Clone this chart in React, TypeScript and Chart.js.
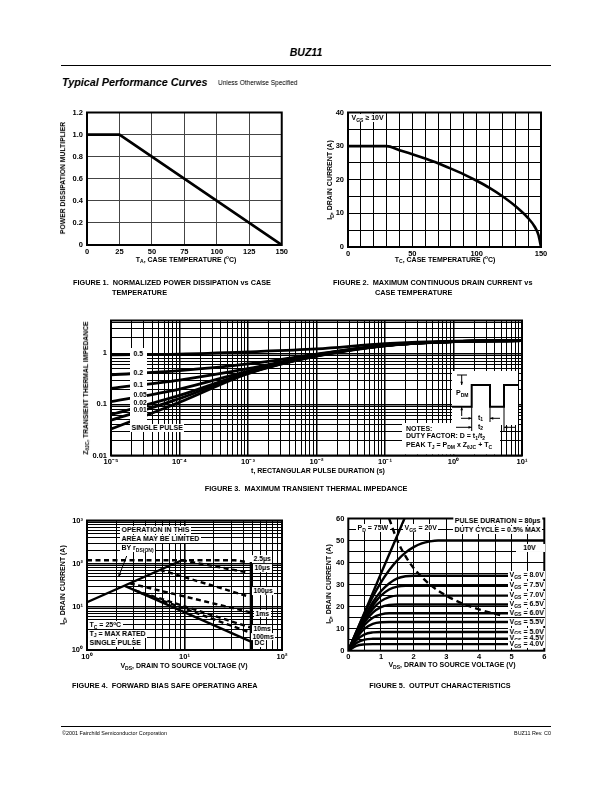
import React, { useEffect, useRef } from 'react';
import { Chart, registerables } from 'chart.js';
Chart.register(...registerables);

const FONT = "'Liberation Sans Narrow', 'Liberation Sans', Arial, Helvetica, sans-serif";
const HFONT = "'Liberation Sans', Arial, Helvetica, sans-serif";

// ---------------- Figure 1: normalized power dissipation ----------------
const fig1Temp = [0, 25, 150];
const fig1Mult = [1.0, 1.0, 0.0];
const fig1XTicks = [0, 25, 50, 75, 100, 125, 150];
const fig1XLabels = ['0', '25', '50', '75', '100', '125', '150'];
const fig1YTicks = [0, 0.2, 0.4, 0.6, 0.8, 1.0, 1.2];
const fig1YLabels = ['0', '0.2', '0.4', '0.6', '0.8', '1.0', '1.2'];

// ---------------- Figure 2: max continuous drain current ----------------
const fig2Temp = [0, 30, 40, 50, 60, 70, 80, 90, 100, 110, 120, 130, 140, 145, 148, 150];
const fig2Id = [30, 30, 28.8, 27.6, 26.3, 24.9, 23.3, 21.6, 19.7, 17.6, 15.1, 12.2, 8.6, 6.1, 3.6, 0];
const fig2XTicks = [0, 10, 20, 30, 40, 50, 60, 70, 80, 90, 100, 110, 120, 130, 140, 150];
const fig2XLabels = ['0', '', '', '', '', '50', '', '', '', '', '100', '', '', '', '', '150'];
const fig2YTicks = [0, 5, 10, 15, 20, 25, 30, 35, 40];
const fig2YLabels = ['0', '', '10', '', '20', '', '30', '', '40'];

// ---------------- Figure 3: transient thermal impedance ----------------
const fig3Time = [1e-5, 1e-4, 1e-3, 1e-2, 1e-1, 1, 10];
const fig3D050 = [0.94, 0.97, 1.07, 1.22, 1.55, 1.74, 1.78];
const fig3D020 = [0.38, 0.46, 0.62, 0.97, 1.44, 1.7, 1.77];
const fig3D010 = [0.206, 0.3, 0.5, 0.94, 1.43, 1.7, 1.77];
const fig3D005 = [0.113, 0.2, 0.45, 0.92, 1.42, 1.7, 1.77];
const fig3D002 = [0.063, 0.15, 0.42, 0.9, 1.42, 1.7, 1.77];
const fig3D001 = [0.049, 0.13, 0.41, 0.89, 1.42, 1.7, 1.77];
const fig3Single = [0.033, 0.11, 0.4, 0.88, 1.41, 1.7, 1.77];
const fig3XLabelVals = [1e-5, 1e-4, 1e-3, 1e-2, 1e-1, 1, 10];
const fig3XLabels = ['10⁻⁵', '10⁻⁴', '10⁻³', '10⁻²', '10⁻¹', '10⁰', '10¹'];
const fig3YLabelVals = [0.01, 0.1, 1];
const fig3YLabels = ['0.01', '0.1', '1'];

// ---------------- Figure 4: forward bias safe operating area ----------------
const soaRdsV = [1, 9.4];
const soaRdsI = [12.8, 120];
const soa2p5usV = [1, 33, 45];
const soa2p5usI = [120, 120, 108];
const soa10usV = [9.4, 45];
const soa10usI = [120, 62];
const soa100usV = [5.6, 45];
const soa100usI = [72, 17.5];
const soa1msV = [2.75, 48];
const soa1msI = [35, 7.4];
const soa10msV = [3.1, 48];
const soa10msI = [24, 3.3];
const soa100msV = [3.4, 48];
const soa100msI = [22, 2.5];
const soaDcV = [2.44, 48];
const soaDcI = [30.7, 1.56];
const soaBvV = [48, 48];
const soaBvI = [110, 1];
const fig4XLabelVals = [1, 10, 100];
const fig4XLabels = ['10⁰', '10¹', '10²'];
const fig4YLabelVals = [1, 10, 100, 1000];
const fig4YLabels = ['10⁰', '10¹', '10²', '10³'];

// ---------------- Figure 5: output characteristics ----------------
const outVds = [0, 0.25, 0.5, 0.75, 1, 1.25, 1.5, 1.75, 2, 2.25, 2.5, 2.75, 3, 6];
const outVgs10 = [0, 8.7, 17, 24.5, 31, 36.5, 41, 44.5, 47, 48.7, 49.6, 50, 50, 50];
const outVgs80 = [0, 8.2, 15.5, 22, 27, 30.5, 32.8, 33.8, 34, 34, 34, 34, 34, 34];
const outVgs75 = [0, 7.8, 14.8, 20.5, 25, 27.8, 29.1, 29.5, 29.5, 29.5, 29.5, 29.5, 29.5, 29.5];
const outVgs70 = [0, 7.4, 14, 19, 22.5, 24.3, 25, 25, 25, 25, 25, 25, 25, 25];
const outVgs65 = [0, 7, 13, 17.3, 19.8, 20.8, 21, 21, 21, 21, 21, 21, 21, 21];
const outVgs60 = [0, 6.5, 11.8, 15, 16.5, 17, 17, 17, 17, 17, 17, 17, 17, 17];
const outVgs55 = [0, 5.8, 10, 12.2, 12.9, 13, 13, 13, 13, 13, 13, 13, 13, 13];
const outVgs50 = [0, 4.8, 7.4, 8.3, 8.5, 8.5, 8.5, 8.5, 8.5, 8.5, 8.5, 8.5, 8.5, 8.5];
const outVgs45 = [0, 3.5, 5.0, 5.4, 5.5, 5.5, 5.5, 5.5, 5.5, 5.5, 5.5, 5.5, 5.5, 5.5];
const outVgs40 = [0, 2.2, 2.85, 3, 3, 3, 3, 3, 3, 3, 3, 3, 3, 3];
const out20V = [0, 0.5, 1, 1.5, 1.72];
const out20I = [0, 17.5, 35, 52.3, 60];
const pdV = [1.25, 1.5, 1.75, 2, 2.5, 3, 3.5, 4, 4.75];
const pdI = [60, 50, 42.9, 37.5, 30, 25, 21.4, 18.75, 15.8];
const fig5XTicks = [0, 0.5, 1, 1.5, 2, 2.5, 3, 3.5, 4, 4.5, 5, 5.5, 6];
const fig5XLabels = ['0', '', '1', '', '2', '', '3', '', '4', '', '5', '', '6'];
const fig5YTicks = [0, 5, 10, 15, 20, 25, 30, 35, 40, 45, 50, 55, 60];
const fig5YLabels = ['0', '', '10', '', '20', '', '30', '', '40', '', '50', '', '60'];

// ---------------- helpers ----------------
function logGrid(minExp: number, maxExp: number, maxVal: number) {
  const out: number[] = [];
  for (let e = minExp; e < maxExp; e++) {
    for (let m = 1; m <= 9; m++) out.push(Number((m * Math.pow(10, e)).toPrecision(6)));
  }
  out.push(Number(Math.pow(10, maxExp).toPrecision(6)));
  return out.filter((v) => v <= maxVal * 1.0000001);
}
function near(a: number, b: number) {
  return Math.abs(a - b) <= 1e-6 * Math.max(1e-12, Math.abs(b));
}
function labelFrom(vals: number[], labels: string[]) {
  return (v: number) => {
    const i = vals.findIndex((t) => near(v, t) || (t === 0 && Math.abs(v) < 1e-9));
    return i >= 0 ? labels[i] : '';
  };
}
function isDecade(v: number) {
  if (!(v > 0)) return false;
  const l = Math.log10(v);
  return Math.abs(l - Math.round(l)) < 1e-6;
}

function mkScale(o: any) {
  return {
    type: o.type,
    min: o.min,
    max: o.max,
    position: o.axis === 'x' ? 'bottom' : 'left',
    afterBuildTicks: (s: any) => {
      s.ticks = o.ticks.map((v: number) => ({ value: v }));
    },
    afterFit: (s: any) => {
      if (o.axis === 'x') s.height = o.fit;
      else s.width = o.fit;
    },
    ticks: {
      autoSkip: false,
      maxRotation: 0,
      minRotation: 0,
      padding: o.pad,
      color: '#000',
      font: { family: FONT, size: o.fontSize ?? 7.5, weight: 'bold' },
      callback: (v: any) => o.label(Number(v)),
    },
    grid: {
      color: o.gridColor ?? '#000',
      lineWidth: (c: any) => (o.gridWidth ? o.gridWidth(c.tick ? c.tick.value : 0) : 1),
      drawTicks: false,
    },
    border: { display: false },
  };
}

const ds = (xs: number[], ys: number[], extra: any = {}) => ({
  data: xs.map((x, i) => ({ x, y: ys[i] })),
  borderColor: '#000',
  borderWidth: 2.5,
  pointRadius: 0,
  fill: false,
  tension: 0,
  ...extra,
});

const framePlugin = {
  id: 'frame',
  afterDraw(chart: any) {
    const { ctx, chartArea: a } = chart;
    ctx.save();
    ctx.strokeStyle = '#000';
    ctx.lineWidth = 2;
    ctx.strokeRect(a.left, a.top, a.right - a.left, a.bottom - a.top);
    ctx.restore();
  },
};

function arrowHead(ctx: any, x1: number, y1: number, x2: number, y2: number, size = 4) {
  const ang = Math.atan2(y2 - y1, x2 - x1);
  ctx.beginPath();
  ctx.moveTo(x2, y2);
  ctx.lineTo(x2 - size * Math.cos(ang - 0.4), y2 - size * Math.sin(ang - 0.4));
  ctx.lineTo(x2 - size * Math.cos(ang + 0.4), y2 - size * Math.sin(ang + 0.4));
  ctx.closePath();
  ctx.fill();
}
function arrow(ctx: any, x1: number, y1: number, x2: number, y2: number, size = 4) {
  ctx.beginPath();
  ctx.moveTo(x1, y1);
  ctx.lineTo(x2, y2);
  ctx.stroke();
  arrowHead(ctx, x1, y1, x2, y2, size);
}

type Geo = { cl: number; ct: number; cw: number; ch: number; L: number; T: number; R: number; B: number };

function baseOptions(g: Geo, x: any, y: any) {
  return {
    responsive: false,
    maintainAspectRatio: false,
    animation: false,
    events: [],
    layout: { padding: { left: 0, top: g.T - g.ct, right: g.cl + g.cw - g.R, bottom: 0 } },
    plugins: { legend: { display: false }, tooltip: { enabled: false }, title: { display: false } },
    scales: { x, y },
  };
}

function ChartCanvas({ g, build }: { g: Geo; build: (g: Geo) => any }) {
  const ref = useRef<HTMLCanvasElement>(null);
  useEffect(() => {
    const chart = new Chart(ref.current as HTMLCanvasElement, build(g));
    return () => chart.destroy();
  }, []);
  return (
    <canvas
      ref={ref}
      width={g.cw}
      height={g.ch}
      style={{ position: 'absolute', left: g.cl, top: g.ct, width: g.cw, height: g.ch }}
    />
  );
}

// ---------------- text helpers ----------------
const Sub = ({ c }: { c: string }) => (
  <span style={{ fontSize: '72%', position: 'relative', top: '0.3em' }}>{c}</span>
);
const Sup = ({ c }: { c: string }) => (
  <span style={{ fontSize: '68%', position: 'relative', top: '-0.45em' }}>{c}</span>
);

function Txt(p: any) {
  const { x, y, a = 'l', s = 7, w = 700, it = false, bg = false, rot = false, f = FONT, k = 1, children } = p;
  const tx = a === 'l' ? '0%' : a === 'c' ? '-50%' : '-100%';
  const origin = a === 'l' ? 'left center' : a === 'c' ? 'center center' : 'right center';
  const transform = rot
    ? `translate(-50%,-50%) rotate(-90deg) scaleX(${k})`
    : `translate(${tx},-50%) scaleX(${k})`;
  return (
    <div
      style={{
        position: 'absolute',
        left: x,
        top: y,
        transform,
        transformOrigin: rot ? 'center center' : origin,
        fontFamily: f,
        fontSize: s,
        fontWeight: w,
        fontStyle: it ? 'italic' : 'normal',
        whiteSpace: 'pre',
        lineHeight: 1.15,
        color: '#000',
        background: bg ? '#fff' : 'transparent',
        padding: bg ? '0 1.5px' : 0,
      }}
    >
      {children}
    </div>
  );
}
const Box = ({ x, y, w, h }: any) => (
  <div style={{ position: 'absolute', left: x, top: y, width: w, height: h, background: '#fff' }} />
);

// ---------------- chart builders ----------------
const g1: Geo = { cl: 58, ct: 104, cw: 232, ch: 152, L: 87, T: 112, R: 283, B: 245 };
function buildFig1(g: Geo) {
  const x = mkScale({ type: 'linear', axis: 'x', min: 0, max: 150, ticks: fig1XTicks, label: labelFrom(fig1XTicks, fig1XLabels), fit: g.ct + g.ch - g.B, pad: 2, gridColor: '#444' });
  const y = mkScale({ type: 'linear', axis: 'y', min: 0, max: 1.2, ticks: fig1YTicks, label: labelFrom(fig1YTicks, fig1YLabels), fit: g.L - g.cl, pad: 4, gridColor: '#444' });
  return {
    type: 'line',
    data: { datasets: [ds(fig1Temp, fig1Mult, { borderWidth: 2.6 })] },
    options: baseOptions(g, x, y),
    plugins: [framePlugin],
  };
}

const g2: Geo = { cl: 320, ct: 104, cw: 235, ch: 154, L: 348, T: 112, R: 541, B: 247 };
function buildFig2(g: Geo) {
  const x = mkScale({ type: 'linear', axis: 'x', min: 0, max: 150, ticks: fig2XTicks, label: labelFrom(fig2XTicks, fig2XLabels), fit: g.ct + g.ch - g.B, pad: 2 });
  const y = mkScale({ type: 'linear', axis: 'y', min: 0, max: 40, ticks: fig2YTicks, label: labelFrom(fig2YTicks, fig2YLabels), fit: g.L - g.cl, pad: 4 });
  return {
    type: 'line',
    data: { datasets: [ds(fig2Temp, fig2Id, { cubicInterpolationMode: 'monotone', borderWidth: 2.6 })] },
    options: baseOptions(g, x, y),
    plugins: [framePlugin],
  };
}

const g3: Geo = { cl: 60, ct: 312, cw: 470, ch: 157, L: 111, T: 320, R: 522, B: 455.5 };
function buildFig3(g: Geo) {
  const ox = g.cl;
  const oy = g.ct;
  const inset = {
    id: 'inset',
    afterDraw(chart: any) {
      const ctx = chart.ctx;
      const X = (v: number) => v - ox;
      const Y = (v: number) => v - oy;
      ctx.save();
      ctx.fillStyle = '#fff';
      ctx.fillRect(X(452), Y(371), 66, 54);
      ctx.fillRect(X(402), Y(423), 98, 31.5);
      ctx.strokeStyle = '#000';
      ctx.fillStyle = '#000';
      ctx.lineWidth = 2;
      ctx.beginPath();
      ctx.moveTo(X(452), Y(406.7));
      ctx.lineTo(X(471.7), Y(406.7));
      ctx.lineTo(X(471.7), Y(385));
      ctx.lineTo(X(490), Y(385));
      ctx.lineTo(X(490), Y(406.7));
      ctx.lineTo(X(504), Y(406.7));
      ctx.lineTo(X(504), Y(385));
      ctx.lineTo(X(518), Y(385));
      ctx.stroke();
      ctx.lineWidth = 1;
      ctx.beginPath();
      ctx.moveTo(X(457), Y(375));
      ctx.lineTo(X(467), Y(375));
      ctx.stroke();
      arrow(ctx, X(461.7), Y(375), X(461.7), Y(385), 3.5);
      arrow(ctx, X(461.7), Y(416), X(461.7), Y(407), 3.5);
      ctx.beginPath();
      ctx.moveTo(X(471.7), Y(407));
      ctx.lineTo(X(471.7), Y(431));
      ctx.moveTo(X(490), Y(407));
      ctx.lineTo(X(490), Y(422));
      ctx.moveTo(X(504), Y(407));
      ctx.lineTo(X(504), Y(431));
      ctx.stroke();
      arrow(ctx, X(461), Y(418.3), X(471.7), Y(418.3), 3.5);
      arrow(ctx, X(500), Y(418.3), X(490), Y(418.3), 3.5);
      arrow(ctx, X(456), Y(427.3), X(471.7), Y(427.3), 3.5);
      arrow(ctx, X(516), Y(427.3), X(504), Y(427.3), 3.5);
      ctx.restore();
    },
  };
  const gx = logGrid(-5, 1, 10);
  const gy = logGrid(-2, 1, 4.4);
  const x = mkScale({ type: 'logarithmic', axis: 'x', min: 1e-5, max: 10, ticks: gx, label: labelFrom(fig3XLabelVals, fig3XLabels), fit: g.ct + g.ch - g.B, pad: 2, gridWidth: (v: number) => (isDecade(v) ? 1.5 : 1) });
  const y = mkScale({ type: 'logarithmic', axis: 'y', min: 0.01, max: 4.4, ticks: gy, label: labelFrom(fig3YLabelVals, fig3YLabels), fit: g.L - g.cl, pad: 4, gridWidth: (v: number) => (isDecade(v) ? 1.5 : 1) });
  const o = { cubicInterpolationMode: 'monotone', borderWidth: 2.8 };
  return {
    type: 'line',
    data: {
      datasets: [
        ds(fig3Time, fig3D050, o),
        ds(fig3Time, fig3D020, o),
        ds(fig3Time, fig3D010, o),
        ds(fig3Time, fig3D005, o),
        ds(fig3Time, fig3D002, o),
        ds(fig3Time, fig3D001, o),
        ds(fig3Time, fig3Single, o),
      ],
    },
    options: baseOptions(g, x, y),
    plugins: [inset, framePlugin],
  };
}

const g4: Geo = { cl: 60, ct: 512, cw: 230, ch: 150, L: 87, T: 519.5, R: 282, B: 650 };
function buildFig4(g: Geo) {
  const ox = g.cl;
  const oy = g.ct;
  const pointer = {
    id: 'pointer',
    afterDraw(chart: any) {
      const ctx = chart.ctx;
      ctx.save();
      ctx.strokeStyle = '#000';
      ctx.fillStyle = '#000';
      ctx.lineWidth = 1;
      arrow(ctx, 126.7 - ox, 556 - oy, 118.5 - ox, 577 - oy, 4.5);
      ctx.restore();
    },
  };
  const gx = logGrid(0, 2, 100);
  const gy = logGrid(0, 3, 1000);
  const x = mkScale({ type: 'logarithmic', axis: 'x', min: 1, max: 100, ticks: gx, label: labelFrom(fig4XLabelVals, fig4XLabels), fit: g.ct + g.ch - g.B, pad: 2, gridWidth: (v: number) => (isDecade(v) ? 1.6 : 1) });
  const y = mkScale({ type: 'logarithmic', axis: 'y', min: 1, max: 1000, ticks: gy, label: labelFrom(fig4YLabelVals, fig4YLabels), fit: g.L - g.cl, pad: 4, gridWidth: (v: number) => (isDecade(v) ? 1.6 : 1) });
  const dash = { borderDash: [5, 3.5], borderWidth: 2.4 };
  return {
    type: 'line',
    data: {
      datasets: [
        ds(soaRdsV, soaRdsI, { borderWidth: 2.4 }),
        ds(soa2p5usV, soa2p5usI, dash),
        ds(soa10usV, soa10usI, dash),
        ds(soa100usV, soa100usI, dash),
        ds(soa1msV, soa1msI, dash),
        ds(soa10msV, soa10msI, dash),
        ds(soa100msV, soa100msI, dash),
        ds(soaDcV, soaDcI, { borderWidth: 2.4 }),
        ds(soaBvV, soaBvI, { borderWidth: 2.4 }),
      ],
    },
    options: baseOptions(g, x, y),
    plugins: [pointer, framePlugin],
  };
}

const g5: Geo = { cl: 320, ct: 510, cw: 232, ch: 152, L: 348.3, T: 517.3, R: 544.3, B: 650.7 };
function buildFig5(g: Geo) {
  const x = mkScale({ type: 'linear', axis: 'x', min: 0, max: 6, ticks: fig5XTicks, label: labelFrom(fig5XTicks, fig5XLabels), fit: g.ct + g.ch - g.B, pad: 2 });
  const y = mkScale({ type: 'linear', axis: 'y', min: 0, max: 60, ticks: fig5YTicks, label: labelFrom(fig5YTicks, fig5YLabels), fit: g.L - g.cl, pad: 4 });
  const o = { cubicInterpolationMode: 'monotone', borderWidth: 2.4 };
  return {
    type: 'line',
    data: {
      datasets: [
        ds(outVds, outVgs10, o),
        ds(outVds, outVgs80, o),
        ds(outVds, outVgs75, o),
        ds(outVds, outVgs70, o),
        ds(outVds, outVgs65, o),
        ds(outVds, outVgs60, o),
        ds(outVds, outVgs55, o),
        ds(outVds, outVgs50, o),
        ds(outVds, outVgs45, o),
        ds(outVds, outVgs40, o),
        ds(out20V, out20I, { borderWidth: 2.4 }),
        ds(pdV, pdI, { cubicInterpolationMode: 'monotone', borderWidth: 2.4, borderDash: [6, 4] }),
      ],
    },
    options: baseOptions(g, x, y),
    plugins: [framePlugin],
  };
}

const vgsLabels = [
  { v: '8.0V', i: 34 },
  { v: '7.5V', i: 29.5 },
  { v: '7.0V', i: 25 },
  { v: '6.5V', i: 21 },
  { v: '6.0V', i: 17 },
  { v: '5.5V', i: 13 },
  { v: '5.0V', i: 8.5 },
  { v: '4.5V', i: 5.5 },
  { v: '4.0V', i: 3 },
];

export default function App() {
  const cap = 7.3;
  return (
    <div style={{ position: 'absolute', left: 0, top: 0, width: 612, height: 792, background: '#fff', overflow: 'hidden', filter: 'grayscale(1)' }}>
      {/* header */}
      <Txt x={306} y={52} a="c" s={10.5} it f={HFONT}>BUZ11</Txt>
      <div style={{ position: 'absolute', left: 61, top: 64.5, width: 490, height: 1.3, background: '#000' }} />
      <Txt x={62} y={82} s={10.8} it f={HFONT}>Typical Performance Curves</Txt>
      <Txt x={218} y={83} s={6.5} w={400} f={HFONT}>Unless Otherwise Specified</Txt>

      {/* Figure 1 */}
      <ChartCanvas g={g1} build={buildFig1} />
      <Txt x={62.5} y={178} rot s={6.8}>POWER DISSIPATION MULTIPLIER</Txt>
      <Txt x={186} y={259.5} a="c" s={7}>T<Sub c="A" />, CASE TEMPERATURE (<Sup c="o" />C)</Txt>
      <Txt x={73} y={283} s={cap}>FIGURE 1.  NORMALIZED POWER DISSIPATION vs CASE</Txt>
      <Txt x={112} y={293} s={cap}>TEMPERATURE</Txt>

      {/* Figure 2 */}
      <ChartCanvas g={g2} build={buildFig2} />
      <Txt x={350} y={118} s={7} bg>V<Sub c="GS" /> ≥ 10V</Txt>
      <Txt x={329.5} y={180} rot s={7}>I<Sub c="D" />, DRAIN CURRENT (A)</Txt>
      <Txt x={445} y={259.5} a="c" s={7}>T<Sub c="C" />, CASE TEMPERATURE (<Sup c="o" />C)</Txt>
      <Txt x={333} y={283} s={cap}>FIGURE 2.  MAXIMUM CONTINUOUS DRAIN CURRENT vs</Txt>
      <Txt x={375} y={293} s={cap}>CASE TEMPERATURE</Txt>

      {/* Figure 3 */}
      <ChartCanvas g={g3} build={buildFig3} />
      <Box x={130} y={348} w={17} h={76} />
      <Txt x={133.5} y={354} s={6.8}>0.5</Txt>
      <Txt x={133.5} y={372.5} s={6.8}>0.2</Txt>
      <Txt x={133.5} y={385} s={6.8}>0.1</Txt>
      <Txt x={133.5} y={395} s={6.8}>0.05</Txt>
      <Txt x={133.5} y={402.5} s={6.8}>0.02</Txt>
      <Txt x={133.5} y={409.5} s={6.8}>0.01</Txt>
      <Txt x={130} y={427.5} s={7} bg>SINGLE PULSE</Txt>
      <Txt x={456} y={393} s={7}>P<Sub c="DM" /></Txt>
      <Txt x={478} y={417.5} s={7}>t<Sub c="1" /></Txt>
      <Txt x={478} y={426.5} s={7}>t<Sub c="2" /></Txt>
      <Txt x={406} y={429} s={7}>NOTES:</Txt>
      <Txt x={406} y={436} s={7}>DUTY FACTOR: D = t<Sub c="1" />/t<Sub c="2" /></Txt>
      <Txt x={406} y={445} s={7}>PEAK T<Sub c="J" /> = P<Sub c="DM" /> x Z<Sub c="θJC" /> + T<Sub c="C" /></Txt>
      <Txt x={86} y={388} rot s={6.8}>Z<Sub c="θJC" />, TRANSIENT THERMAL IMPEDANCE</Txt>
      <Txt x={318} y={471} a="c" s={7}>t, RECTANGULAR PULSE DURATION (s)</Txt>
      <Txt x={306} y={489} a="c" s={cap}>FIGURE 3.  MAXIMUM TRANSIENT THERMAL IMPEDANCE</Txt>

      {/* Figure 4 */}
      <ChartCanvas g={g4} build={buildFig4} />
      <Txt x={120} y={530} s={7} bg>OPERATION IN THIS</Txt>
      <Txt x={120} y={539} s={7} bg>AREA MAY BE LIMITED</Txt>
      <Txt x={120} y={548} s={7} bg>BY r<Sub c="DS(ON)" /></Txt>
      <Txt x={88} y={625} s={7} bg>T<Sub c="C" /> = 25<Sup c="o" />C</Txt>
      <Txt x={88} y={633.5} s={7} bg>T<Sub c="J" /> = MAX RATED</Txt>
      <Txt x={88} y={642.5} s={7} bg>SINGLE PULSE</Txt>
      <Txt x={252} y={559} s={6.8} bg>2.5μs</Txt>
      <Txt x={253} y={568} s={6.8} bg>10μs</Txt>
      <Txt x={252} y={591} s={6.8} bg>100μs</Txt>
      <Txt x={254} y={613.5} s={6.8} bg>1ms</Txt>
      <Txt x={252} y={629} s={6.8} bg>10ms</Txt>
      <Txt x={251} y={636.5} s={6.8} bg>100ms</Txt>
      <Txt x={253} y={643} s={6.8} bg>DC</Txt>
      <Txt x={63} y={585} rot s={7}>I<Sub c="D" />, DRAIN CURRENT (A)</Txt>
      <Txt x={184} y={666} a="c" s={7}>V<Sub c="DS" />, DRAIN TO SOURCE VOLTAGE (V)</Txt>
      <Txt x={72} y={686} s={cap}>FIGURE 4.  FORWARD BIAS SAFE OPERATING AREA</Txt>

      {/* Figure 5 */}
      <ChartCanvas g={g5} build={buildFig5} />
      <Txt x={356} y={528} s={7} bg>P<Sub c="D" /> = 75W</Txt>
      <Txt x={403} y={528} s={7} bg>V<Sub c="GS" /> = 20V</Txt>
      <Txt x={542} y={521} a="r" s={7} bg>PULSE DURATION = 80μs</Txt>
      <Txt x={542} y={529.5} a="r" s={7} bg>DUTY CYCLE = 0.5% MAX</Txt>
      <Txt x={516} y={547.5} s={7} bg>{'   10V    '}</Txt>
      {vgsLabels.map((l) => (
        <Txt key={l.v} x={508} y={650.7 - l.i * (133.4 / 60)} s={7} bg>
          V<Sub c="GS" /> = {l.v}
        </Txt>
      ))}
      <Txt x={329} y={584} rot s={7}>I<Sub c="D" />, DRAIN CURRENT (A)</Txt>
      <Txt x={452} y={665} a="c" s={7}>V<Sub c="DS" />, DRAIN TO SOURCE VOLTAGE (V)</Txt>
      <Txt x={440} y={686} a="c" s={cap}>FIGURE 5.  OUTPUT CHARACTERISTICS</Txt>

      {/* footer */}
      <div style={{ position: 'absolute', left: 61, top: 726, width: 490, height: 1, background: '#000' }} />
      <Txt x={62} y={733} s={5.4} w={400} f={HFONT}>©2001 Fairchild Semiconductor Corporation</Txt>
      <Txt x={551} y={733} a="r" s={5.4} w={400} f={HFONT}>BUZ11 Rev. C0</Txt>
    </div>
  );
}
